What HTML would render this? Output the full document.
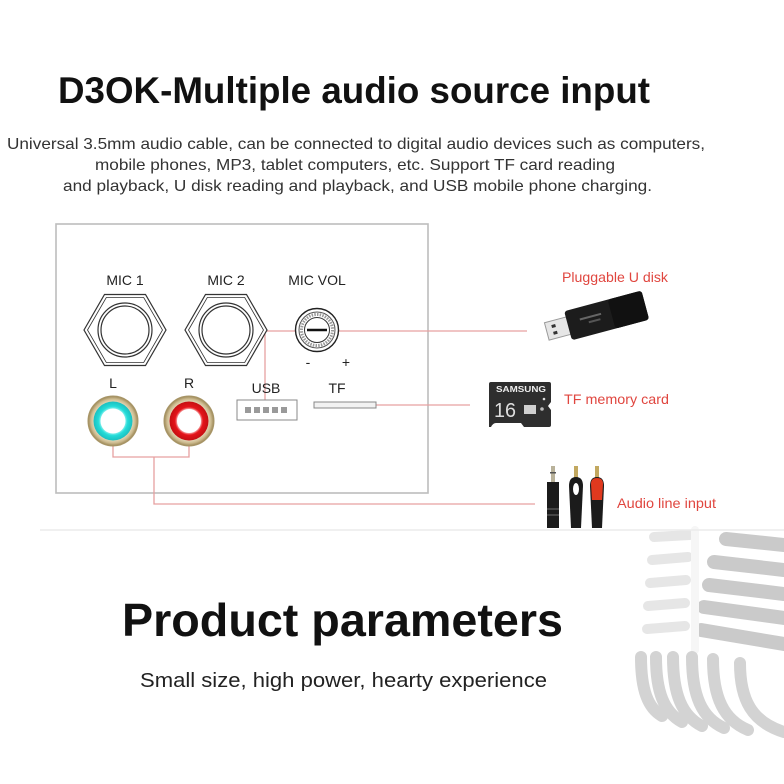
<!DOCTYPE html>
<html><head><meta charset="utf-8"><style>
html,body{margin:0;padding:0;background:#fff;}
svg{display:block;}
text{font-family:"Liberation Sans",Arial,sans-serif;}
</style></head><body>
<svg width="784" height="784" viewBox="0 0 784 784" xmlns="http://www.w3.org/2000/svg">
<defs>
<radialGradient id="gold" cx="50%" cy="50%" r="50%">
<stop offset="70%" stop-color="#efe6cf"/>
<stop offset="88%" stop-color="#cdbb8f"/>
<stop offset="100%" stop-color="#9a8656"/>
</radialGradient>
<radialGradient id="cyan" cx="50%" cy="50%" r="50%">
<stop offset="60%" stop-color="#9ff4f2"/>
<stop offset="75%" stop-color="#24dcd8"/>
<stop offset="100%" stop-color="#1bbfc0"/>
</radialGradient>
<radialGradient id="red" cx="50%" cy="50%" r="50%">
<stop offset="60%" stop-color="#f7b0b0"/>
<stop offset="72%" stop-color="#e5141a"/>
<stop offset="100%" stop-color="#c40f12"/>
</radialGradient>
</defs>
<rect width="784" height="784" fill="#fff"/>

<!-- microphone background -->
<g fill="none" stroke-linecap="round">
<g stroke="#e6e6e6" stroke-width="10">
<path d="M654 537 L690 535"/>
<path d="M652 560 L688 557"/>
<path d="M650 583 L686 580"/>
<path d="M648 606 L685 603"/>
<path d="M647 629 L685 626"/>
</g>
<g stroke="#cacaca" stroke-width="14">
<path d="M726 539 L784 545"/>
<path d="M714 562 L784 570"/>
<path d="M709 585 L784 594"/>
<path d="M704 607 L784 618"/>
<path d="M701 630 L784 644"/>
</g>
<path d="M695 530 L695 650" stroke="#f6f6f6" stroke-width="8"/>
<g stroke="#d3d3d3" stroke-width="12">
<path d="M641 657 C641 690 648 708 662 716"/>
<path d="M656 657 C656 692 664 712 682 722"/>
<path d="M673 657 C673 694 682 716 702 726"/>
<path d="M692 657 C692 696 702 718 724 728"/>
<path d="M713 659 C713 698 724 720 748 730"/>
<path d="M740 663 C740 700 752 722 784 732"/>
</g>
</g>
<line x1="40" y1="530" x2="784" y2="530" stroke="#ececec" stroke-width="1.5"/>

<!-- title -->
<text x="58" y="103" font-size="37" font-weight="bold" fill="#111" textLength="592" lengthAdjust="spacingAndGlyphs">D3OK-Multiple audio source input</text>
<text x="7" y="149" font-size="16" fill="#333" textLength="698" lengthAdjust="spacingAndGlyphs">Universal 3.5mm audio cable, can be connected to digital audio devices such as computers,</text>
<text x="95" y="170" font-size="16" fill="#333" textLength="520" lengthAdjust="spacingAndGlyphs">mobile phones, MP3, tablet computers, etc. Support TF card reading</text>
<text x="63" y="191" font-size="16" fill="#333" textLength="589" lengthAdjust="spacingAndGlyphs">and playback, U disk reading and playback, and USB mobile phone charging.</text>

<!-- panel -->
<rect x="56" y="224" width="372" height="269" fill="#fff" stroke="#bdbdbd" stroke-width="1.6"/>

<!-- red connector lines -->
<g stroke="#e6a0a0" stroke-width="1.3" fill="none">
<path d="M266 331 L527 331"/>
<path d="M265 331 L265 400"/>
<path d="M376 405 L470 405"/>
<path d="M113 446 L113 457 L189 457 L189 446"/>
<path d="M154 457 L154 504 L535 504"/>
</g>

<!-- labels -->
<g font-size="14" fill="#222" text-anchor="middle">
<text x="125" y="285">MIC 1</text>
<text x="226" y="285">MIC 2</text>
<text x="317" y="285">MIC VOL</text>
<text x="308" y="367">-</text>
<text x="346" y="367">+</text>
<text x="113" y="388">L</text>
<text x="189" y="388">R</text>
<text x="266" y="393">USB</text>
<text x="337" y="393">TF</text>
</g>

<!-- MIC jacks -->
<g fill="#fff" stroke="#333" stroke-width="1.2">
<polygon points="84,330 104.5,294.5 145.5,294.5 166,330 145.5,365.5 104.5,365.5"/>
<polygon points="87.5,330 106.3,297.5 143.7,297.5 162.5,330 143.7,362.5 106.3,362.5" stroke-width="0.8"/>
<circle cx="125" cy="330" r="27"/>
<circle cx="125" cy="330" r="24"/>
<polygon points="185,330 205.5,294.5 246.5,294.5 267,330 246.5,365.5 205.5,365.5"/>
<polygon points="188.5,330 207.3,297.5 244.7,297.5 263.5,330 244.7,362.5 207.3,362.5" stroke-width="0.8"/>
<circle cx="226" cy="330" r="27"/>
<circle cx="226" cy="330" r="24"/>
</g>

<!-- knob -->
<g fill="#fff">
<circle cx="317" cy="330" r="21.5" stroke="#222" stroke-width="1.4"/>
<circle cx="317" cy="330" r="18" stroke="#555" stroke-width="1"/>
<circle cx="317" cy="330" r="15.5" stroke="#999" stroke-width="3" stroke-dasharray="1.5 1.2"/>
<circle cx="317" cy="330" r="12.5" stroke="#333" stroke-width="1"/>
<line x1="307" y1="330" x2="327" y2="330" stroke="#111" stroke-width="2.5"/>
</g>

<!-- RCA -->
<circle cx="113" cy="421" r="25" fill="url(#gold)" stroke="#a89668" stroke-width="1"/>
<circle cx="113" cy="421" r="19.5" fill="url(#cyan)"/>
<circle cx="113" cy="421" r="12.5" fill="#fff"/>
<circle cx="189" cy="421" r="25" fill="url(#gold)" stroke="#a89668" stroke-width="1"/>
<circle cx="189" cy="421" r="19.5" fill="url(#red)"/>
<circle cx="189" cy="421" r="12" fill="#fff"/>

<!-- USB port -->
<rect x="237" y="400" width="60" height="20" fill="#fff" stroke="#888" stroke-width="1"/>
<g fill="#9a9a9a">
<rect x="245" y="407" width="6" height="6"/><rect x="254" y="407" width="6" height="6"/><rect x="263" y="407" width="6" height="6"/><rect x="272" y="407" width="6" height="6"/><rect x="281" y="407" width="6" height="6"/>
</g>
<!-- TF slot -->
<rect x="314" y="402" width="62" height="6" fill="#f2f2f2" stroke="#888" stroke-width="1"/>

<!-- USB drive -->
<g transform="rotate(-15 597 318)">
<rect x="545" y="309" width="24" height="18" fill="#e6e6e6" stroke="#9a9a9a" stroke-width="1"/>
<rect x="551" y="313" width="4" height="3" fill="#333"/>
<rect x="551" y="320" width="4" height="3" fill="#333"/>
<rect x="567" y="303" width="80" height="30" rx="3" fill="#1c1c1c"/>
<rect x="612" y="303" width="35" height="30" rx="3" fill="#111"/>
<rect x="580" y="314" width="22" height="2" fill="#666"/>
<rect x="588" y="319" width="12" height="2" fill="#555"/>
</g>

<!-- SD card -->
<path d="M489 384 Q489 382 491 382 L549 382 Q551 382 551 384 L551 402 L548 406 L551 410 L551 425 Q551 427 549 427 L524 427 L521 423 L496 423 Q493 423 491 427 L489 427 Z" fill="#2e2e2e"/>
<text x="521" y="392" font-size="8" font-weight="bold" fill="#eee" text-anchor="middle" textLength="50" lengthAdjust="spacingAndGlyphs">SAMSUNG</text>
<text x="494" y="417" font-size="20" fill="#ddd" textLength="22" lengthAdjust="spacingAndGlyphs">16</text>
<rect x="524" y="405" width="12" height="9" fill="#cfcfcf"/>
<circle cx="544" cy="399" r="1.3" fill="#ddd"/>
<circle cx="542" cy="409" r="1.8" fill="#bbb"/>

<!-- cables -->
<g>
<rect x="551" y="466" width="4" height="17" fill="#b9b29a"/>
<rect x="550" y="472" width="6" height="1.5" fill="#555"/>
<rect x="547" y="482" width="12" height="46" fill="#1b1b1b"/>
<rect x="547" y="508" width="12" height="2" fill="#444"/>
<rect x="547" y="514" width="12" height="2" fill="#444"/>
<rect x="574" y="466" width="4" height="12" fill="#c2a860"/>
<path d="M569 486 Q569 477 576 477 Q583 477 583 486 L581 528 L571 528 Z" fill="#1b1b1b"/>
<ellipse cx="576" cy="489" rx="3" ry="6" fill="#fff"/>
<rect x="595" y="466" width="4" height="12" fill="#c2a860"/>
<path d="M590 486 Q590 477 597 477 Q604 477 604 486 L602 528 L592 528 Z" fill="#1b1b1b"/>
<path d="M591 484 Q591 478 597 478 Q603 478 603 484 L602 500 L592 500 Z" fill="#e0391e"/>
</g>

<!-- red labels -->
<g font-size="14" fill="#e0463f">
<text x="562" y="282" textLength="106" lengthAdjust="spacingAndGlyphs">Pluggable U disk</text>
<text x="564" y="404" textLength="105" lengthAdjust="spacingAndGlyphs">TF memory card</text>
<text x="617" y="508" textLength="99" lengthAdjust="spacingAndGlyphs">Audio line input</text>
</g>

<!-- bottom section -->
<text x="122" y="636" font-size="46" font-weight="bold" fill="#111" textLength="441" lengthAdjust="spacingAndGlyphs">Product parameters</text>
<text x="140" y="687" font-size="20" fill="#222" textLength="407" lengthAdjust="spacingAndGlyphs">Small size, high power, hearty experience</text>
</svg>
</body></html>
